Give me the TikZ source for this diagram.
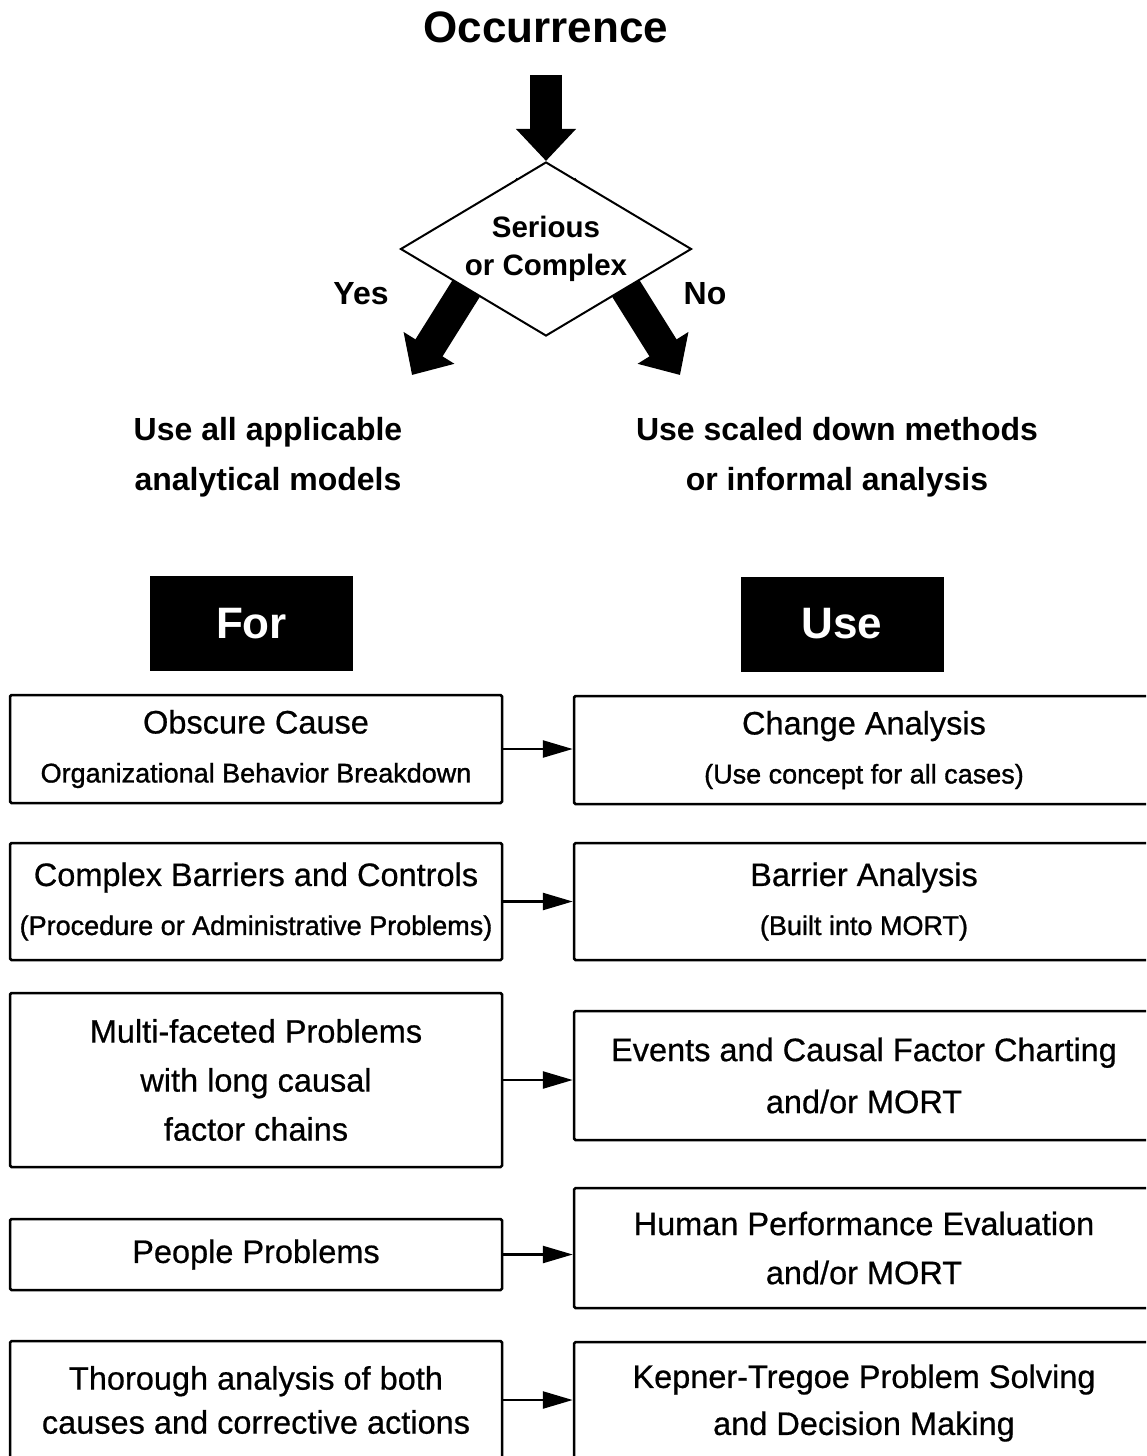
\documentclass[tikz,border=0pt]{standalone}
\usepackage{fontspec}
\setmainfont{Liberation Sans}
\newfontfamily\boxfont{Liberation Sans}[FakeBold=0.6]
\newfontfamily\notefont{Liberation Sans}[FakeBold=1.2]
\usetikzlibrary{shapes.geometric,arrows.meta,backgrounds}

\newcommand{\boxnote}[1]{{\notefont\fontsize{27}{49}\selectfont #1}}

\begin{document}
\begin{tikzpicture}[x=1pt,y=-1pt,
	box/.style={draw,line width=2.5pt,rounded corners=1.5pt,align=center,inner sep=0pt,font=\boxfont\fontsize{32.5}{49}\selectfont},
	forbox/.style={box,minimum width=492pt},
	usebox/.style={box,minimum width=580pt},
	bigarrow/.style={line width=32pt,-{Triangle[length=32pt,width=58pt]}},
	link/.style={line width=2.5pt,-{Triangle[length=30pt,width=17pt]}},
	head/.style={font=\bfseries\fontsize{32}{50}\selectfont,align=center},
	tag/.style={fill=black,text=white,font=\bfseries\fontsize{44}{44}\selectfont,minimum width=203pt,minimum height=95pt}]
		\useasboundingbox (0,0) rectangle (1146,1456);
		\clip (0,0) rectangle (1146,1456);
		
		% decision
		\node[font=\bfseries\fontsize{44}{44}\selectfont,inner sep=0pt] (occ) at (546,27) {Occurrence};
		\node[diamond,draw,line width=2pt,fill=white,aspect=1.67,inner sep=0pt,minimum width=291pt,minimum height=174pt,
			align=center,font=\bfseries\fontsize{29.5}{38}\selectfont] (dia) at (546,249) {Serious\\or Complex};
		\coordinate (yestip) at (412,375);
		\coordinate (notip) at (680,375);
		\draw[bigarrow,shorten <=32pt] (occ) -- (dia);
		\begin{scope}[on background layer]
			\draw[bigarrow,shorten <=30pt] (dia.north) -- (yestip);
			\draw[bigarrow,shorten <=30pt] (dia.north) -- (notip);
		\end{scope}
		\node[head] (yes) at (361,294) {Yes};
		\node[head] (no) at (705,294) {No};
		
		\node[head] (all) at (268,457) {Use all applicable\\analytical models};
		\node[head] (scaled) at (837,457) {Use scaled down methods\\or informal analysis};
		
		% columns
		\node[tag] (for) at (251.5,623.5) {For};
		\node[tag] (use) at (842,624) {Use};
		
		\node[forbox,minimum height=108pt] (f1) at (256,749) {Obscure Cause\\\boxnote{Organizational Behavior Breakdown}};
		\node[forbox,minimum height=117pt] (f2) at (256,901.5) {Complex Barriers and Controls\\\boxnote{(Procedure or Administrative Problems)}};
		\node[forbox,minimum height=174pt] (f3) at (256,1080) {Multi-faceted Problems\\with long causal\\factor chains};
		\node[forbox,minimum height=71pt] (f4) at (256,1254.5) {People Problems};
		\node[forbox,minimum height=118pt] (f5) at (256,1400) {Thorough analysis of both\\[-5pt]causes and corrective actions};
		
		\node[usebox,minimum height=108pt] (u1) at (864,750) {Change Analysis\\\boxnote{(Use concept for all cases)}};
		\node[usebox,minimum height=117pt] (u2) at (864,901.5) {Barrier Analysis\\\boxnote{(Built into MORT)}};
		\node[usebox,minimum height=129pt] (u3) at (864,1075.5) {Events and Causal Factor Charting\\[3pt]and/or MORT};
		\node[usebox,minimum height=120pt] (u4) at (864,1248) {Human Performance Evaluation\\and/or MORT};
		\node[usebox,minimum height=122pt] (u5) at (864,1403) {Kepner-Tregoe Problem Solving\\[-2pt]and Decision Making};
		
		\foreach \i in {1,...,5}
			\draw[link] (f\i.east) -- (f\i.east -| u\i.west);
	\end{tikzpicture}
\end{document}
